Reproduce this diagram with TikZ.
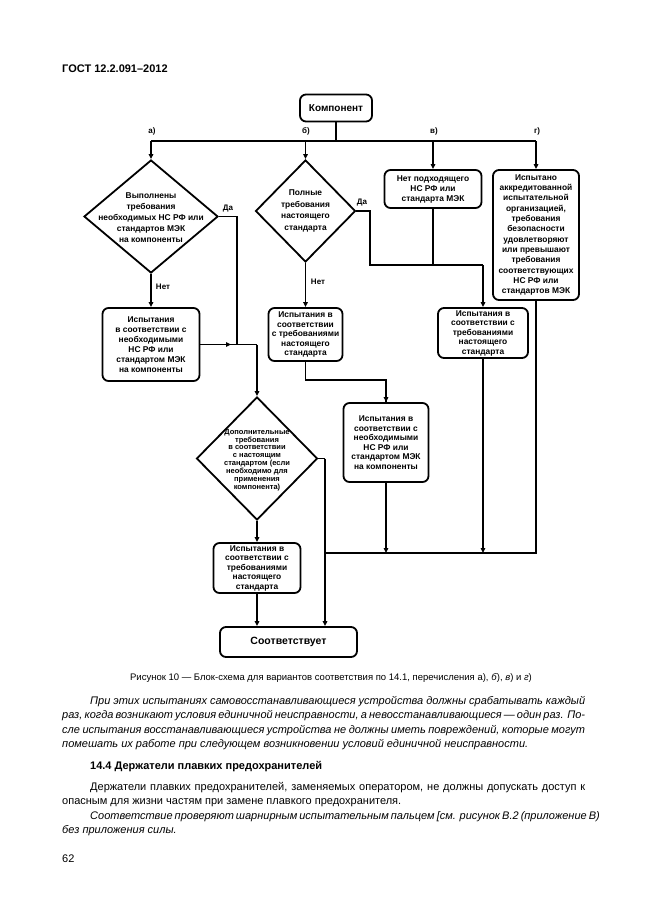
\documentclass[tikz,border=0pt]{standalone}
\usepackage{fontspec}
\setmainfont{Liberation Sans}
\usetikzlibrary{shapes.geometric,arrows.meta,calc}
\begin{document}
\begin{tikzpicture}[x=1pt,y=-1pt,
  box/.style={draw,line width=1.8pt,rounded corners=6pt,align=center,inner sep=0pt,
    font=\bfseries\fontsize{8.4}{9.5}\selectfont},
  dia/.style={draw,diamond,line width=1.8pt,inner sep=0pt},
  dtext/.style={align=center,inner sep=0pt,font=\bfseries\fontsize{8.4}{11}\selectfont},
  lbl/.style={inner sep=0pt,font=\bfseries\fontsize{8}{9}\selectfont},
  con/.style={line width=1.6pt},
  arr/.style={con,-{Triangle[length=5pt,width=4.5pt]}},
  body/.style={anchor=base west,inner sep=0pt,font=\fontsize{11}{14}\selectfont},
  ibody/.style={anchor=base west,inner sep=0pt,font=\itshape\fontsize{11}{14}\selectfont}]
\useasboundingbox (0,0) rectangle (646,913);
\fill[white] (0,0) rectangle (646,913);

% header
\node[anchor=base west,inner sep=0pt,font=\bfseries\fontsize{11}{12}\selectfont] (hdr) at (62,72) {ГОСТ 12.2.091–2012};

% nodes
\node[box,minimum width=72pt,minimum height=27pt,font=\bfseries\fontsize{10}{12}\selectfont] (komp) at (336,108) {Компонент};

\node[dia,minimum width=134pt,minimum height=113pt] (d1) at (151,216.5) {};
\node[dtext] (d1t) at (151,218) {Выполнены\\требования\\необходимых НС РФ или\\стандартов МЭК\\на компоненты};

\node[dia,minimum width=100pt,minimum height=102pt] (d2) at (305.5,211) {};
\node[dtext,font=\bfseries\fontsize{8.4}{11.5}\selectfont] (d2t) at (305.5,211) {Полные\\требования\\настоящего\\стандарта};

\node[box,minimum width=97pt,minimum height=38pt,font=\bfseries\fontsize{8.4}{10}\selectfont] (bv) at (433,189) {Нет подходящего\\НС РФ или\\стандарта МЭК};

\node[box,minimum width=86pt,minimum height=130pt,font=\bfseries\fontsize{8.4}{10.3}\selectfont] (bg) at (536,235) {Испытано\\аккредитованной\\испытательной\\организацией,\\требования\\безопасности\\удовлетворяют\\или превышают\\требования\\соответствующих\\НС РФ или\\стандартов МЭК};

\node[box,minimum width=97pt,minimum height=73pt,font=\bfseries\fontsize{8.4}{10}\selectfont] (b1) at (151,344.5) {Испытания\\в соответствии с\\необходимыми\\НС РФ или\\стандартом МЭК\\на компоненты};

\node[box,minimum width=74pt,minimum height=53pt] (m1) at (305.5,334.5) {Испытания в\\соответствии\\с требованиями\\настоящего\\стандарта};

\node[box,minimum width=90pt,minimum height=50pt] (r1) at (483,333) {Испытания в\\соответствии с\\требованиями\\настоящего\\стандарта};

\node[box,minimum width=85pt,minimum height=79pt] (m2) at (386,442.5) {Испытания в\\соответствии с\\необходимыми\\НС РФ или\\стандартом МЭК\\на компоненты};

\node[dia,minimum width=121pt,minimum height=123pt] (d3) at (257,458.5) {};
\node[dtext,font=\bfseries\fontsize{7.5}{7.9}\selectfont] (d3t) at (257,460) {Дополнительные\\требования\\в соответствии\\с настоящим\\стандартом (если\\необходимо для\\применения\\компонента)};

\node[box,minimum width=87pt,minimum height=50pt] (b3) at (257,568) {Испытания в\\соответствии с\\требованиями\\настоящего\\стандарта};

\node[box,minimum width=137pt,minimum height=30pt,font=\bfseries\fontsize{10.5}{12}\selectfont] (comp) at (288.5,642) {Соответствует};

% labels
\node[lbl] (la) at (152,131) {а)};
\node[lbl] (lb) at (306,131) {б)};
\node[lbl] (lv) at (434,131) {в)};
\node[lbl] (lg) at (537,131) {г)};
\node[lbl] (da1) at (228,209) {Да};
\node[lbl] (net1) at (163,287) {Нет};
\node[lbl] (da2) at (362,203) {Да};
\node[lbl] (net2) at (318,282) {Нет};

% coordinates
\coordinate (busK) at (336,141);
\coordinate (busL) at (151,141);
\coordinate (busR) at (536,141);
\coordinate (j1) at (237,344.5);
\coordinate (j1r) at (257,344.5);
\coordinate (a1tip) at (231,344.5);
\coordinate (j2) at (370,265);
\coordinate (j3) at (305.5,380);
\coordinate (bus2) at (325,553);
\coordinate (j4) at (325,458.5);

% connectors
\draw[con] (komp.south) -- (busK);
\draw[con] (busL) -- (busR);
\draw[arr] (busL) -- (d1.north);
\draw[arr] (d2.north |- busL) -- (d2.north);
\draw[arr] (bv.north |- busL) -- (bv.north);
\draw[arr] (bg.north |- busL) -- (bg.north);

\draw[arr] (d1.south) -- (b1.north);
\draw[con] (d1.east) -| (j1);
\draw[con] (b1.east) -- (j1) -- (j1r);
\draw[arr] (b1.east) -- (a1tip);
\draw[arr] (j1r) -- (d3.north);

\draw[arr] (d2.south) -- (m1.north);
\draw[con] (d2.east) -| (j2) -- (r1.north |- j2);
\draw[arr] (r1.north |- j2) -- (r1.north);
\draw[con] (bv.south) -- (bv.south |- j2);

\draw[con] (m1.south) -- (j3) -| (m2.north);
\draw[arr] (m2.north |- j3) -- (m2.north);

\draw[arr] (m2.south) -- (m2.south |- bus2);
\draw[arr] (r1.south) -- (r1.south |- bus2);
\draw[con] (bg.south) -- (bg.south |- bus2) -- (bus2);

\draw[con] (d3.east) -- (j4);
\draw[arr] (j4) -- (j4 |- comp.north);
\draw[arr] (d3.south) -- (b3.north);
\draw[arr] (b3.south) -- (b3.south |- comp.north);

% caption and text
\node[anchor=base,inner sep=0pt,font=\fontsize{9.5}{12}\selectfont] (cap) at (331,680) {Рисунок 10 — Блок-схема для вариантов соответствия по 14.1, перечисления а), \textit{б}), \textit{в}) и \textit{г})};

\node[ibody] (p1) at (90,704) {\makebox[495pt][s]{При этих испытаниях самовосстанавливающиеся устройства должны срабатывать каждый}};
\node[ibody] (p2) at (62,718.5) {\makebox[523pt][s]{раз, когда возникают условия единичной неисправности, а невосстанавливающиеся — один раз. По-}};
\node[ibody] (p3) at (62,733) {\makebox[523pt][s]{сле испытания восстанавливающиеся устройства не должны иметь повреждений, которые могут}};
\node[ibody] (p4) at (62,747) {помешать их работе при следующем возникновении условий единичной неисправности.};

\node[body,font=\bfseries\fontsize{11}{14}\selectfont] (h1) at (90,769) {14.4 Держатели плавких предохранителей};

\node[body] (q1) at (90,790) {\makebox[495pt][s]{Держатели плавких предохранителей, заменяемых оператором, не должны допускать доступ к}};
\node[body] (q2) at (62,804) {опасным для жизни частям при замене плавкого предохранителя.};
\node[ibody] (q3) at (90,819) {\makebox[495pt][s]{Соответствие проверяют шарнирным испытательным пальцем [см. рисунок В.2 (приложение В)}};
\node[ibody] (q4) at (62,833) {без приложения силы.};

\node[body] (pg) at (62,862) {62};
\end{tikzpicture}
\end{document}
